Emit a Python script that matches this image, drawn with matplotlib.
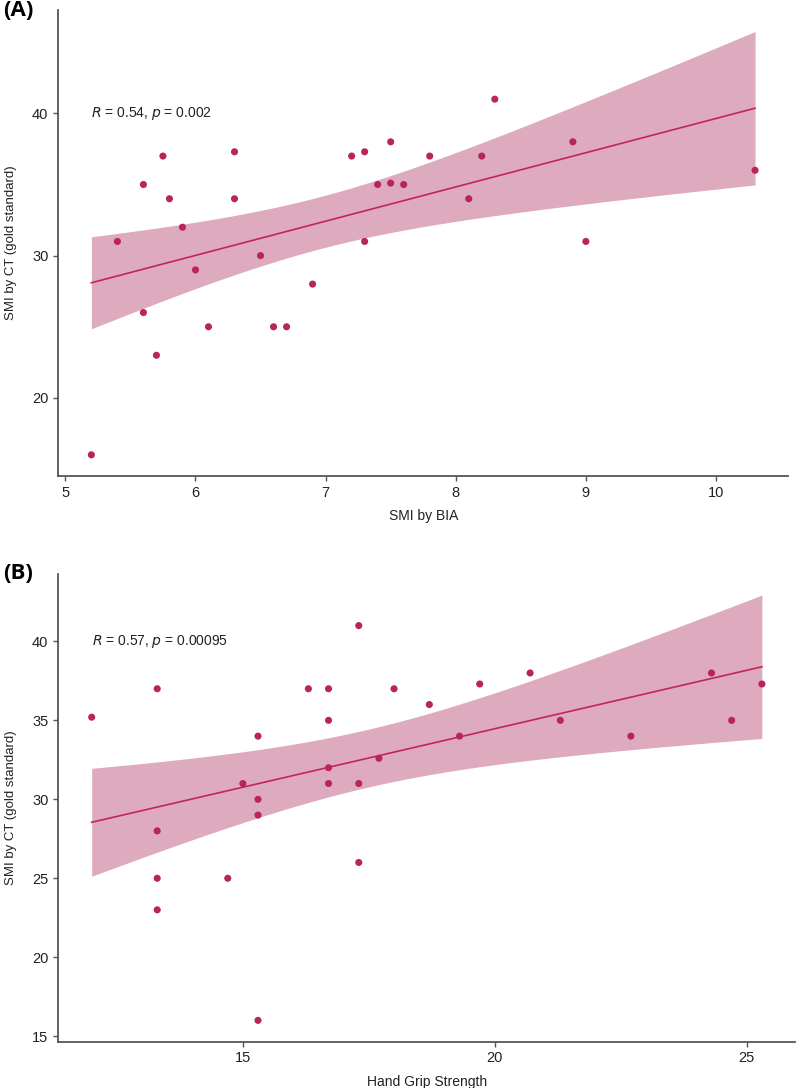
import numpy as np
import matplotlib
matplotlib.use("Agg")
import matplotlib.pyplot as plt

plt.rcParams['font.family'] = ['Liberation Sans', 'DejaVu Sans']

# Panel A: SMI by BIA vs SMI by CT
bia_x = [5.2, 5.4, 5.6, 5.6, 5.7, 5.75, 5.8, 5.9, 6.0, 6.1, 6.3, 6.3, 6.5, 6.6, 6.7,
         6.9, 7.2, 7.3, 7.3, 7.4, 7.5, 7.5, 7.6, 7.8, 8.1, 8.2, 8.3, 8.9, 9.0, 10.3]
bia_y = [16, 31, 35, 26, 23, 37, 34, 32, 29, 25, 37.3, 34, 30, 25, 25,
         28, 37, 37.3, 31, 35, 38, 35.1, 35, 37, 34, 37, 41, 38, 31, 36]

# Panel B: hand grip strength vs SMI by CT
hgs_x = [12.0, 13.3, 13.3, 13.3, 13.3, 14.7, 15.0, 15.3, 15.3, 15.3, 15.3, 16.3, 16.7, 16.7,
         16.7, 16.7, 17.3, 17.3, 17.3, 17.7, 18.0, 18.7, 19.3, 19.7, 20.7, 21.3, 22.7, 24.3, 24.7, 25.3]
hgs_y = [35.2, 37, 28, 25, 23, 25, 31, 34, 30, 29, 16, 37, 37, 35,
         32, 31, 41, 31, 26, 32.6, 37, 36, 34, 37.3, 38, 35, 34, 38, 35, 37.3]

labels_a = ("SMI by BIA", "R = 0.54, p = 0.002")
labels_b = ("Hand Grip Strength", "R = 0.57, p = 0.00095")

point_col = "#B8245B"
line_col = "#C2255E"
band_col = "#DEAABE"
axis_col = "#555555"


def fit_band(x, y, n=200):
    x = np.asarray(x, float)
    y = np.asarray(y, float)
    slope, icpt = np.polyfit(x, y, 1)
    xs = np.linspace(x.min(), x.max(), n)
    fit = icpt + slope * xs
    resid = y - (icpt + slope * x)
    s = np.sqrt(np.sum(resid ** 2) / (len(x) - 2))
    se = s * np.sqrt(1 / len(x) + (xs - x.mean()) ** 2 / np.sum((x - x.mean()) ** 2))
    t = 2.048  # t(0.975, 28)
    return xs, fit, fit - t * se, fit + t * se


def draw_panel(ax, x, y, xlabel, stat, yticks, xticks, tag):
    xs, fit, lo, hi = fit_band(x, y)
    ax.fill_between(xs, lo, hi, color=band_col, lw=0, zorder=1)
    ax.plot(xs, fit, color=line_col, lw=1.2, zorder=2)
    ax.scatter(x, y, s=26, color=point_col, edgecolors='none', zorder=3)

    xr = max(x) - min(x)
    ax.set_xlim(min(x) - 0.05 * xr, max(x) + 0.05 * xr)
    ylo = min(min(y), lo.min())
    yhi = max(max(y), hi.max())
    yr = yhi - ylo
    ax.set_ylim(ylo - 0.05 * yr, yhi + 0.05 * yr)

    ax.set_xticks(xticks)
    ax.set_yticks(yticks)
    for side in ['top', 'right']:
        ax.spines[side].set_visible(False)
    for side in ['left', 'bottom']:
        ax.spines[side].set_color(axis_col)
        ax.spines[side].set_linewidth(1.3)
    ax.tick_params(colors=axis_col, labelcolor='#222222', labelsize=10.5, length=3.5, width=1)
    ax.set_xlabel(xlabel, fontsize=10, color='#222222', labelpad=7)
    ax.set_ylabel("SMI by CT (gold standard)", fontsize=9.5, color='#222222', labelpad=11)

    r_part, p_part = stat.split(", ")
    txt = "$\\it{R}$" + r_part[1:] + ", $\\it{p}$" + p_part[1:]
    ax.text(min(x), 40, txt, fontsize=10, va='center', ha='left', color='#222222')
    ax.text(-0.075, 1.0, tag, transform=ax.transAxes, fontsize=16, fontweight='bold',
            family='Open Sans', va='center', ha='left', color='black')


fig = plt.figure(figsize=(7.97, 10.88), dpi=100)
ax_a = fig.add_axes([0.073, 0.5625, 0.916, 0.428])
ax_b = fig.add_axes([0.073, 0.0426, 0.925, 0.430])

draw_panel(ax_a, bia_x, bia_y, labels_a[0], labels_a[1], [20, 30, 40], [5, 6, 7, 8, 9, 10], "(A)")
draw_panel(ax_b, hgs_x, hgs_y, labels_b[0], labels_b[1], [15, 20, 25, 30, 35, 40], [15, 20, 25], "(B)")

fig.savefig("out.png", dpi=100)
